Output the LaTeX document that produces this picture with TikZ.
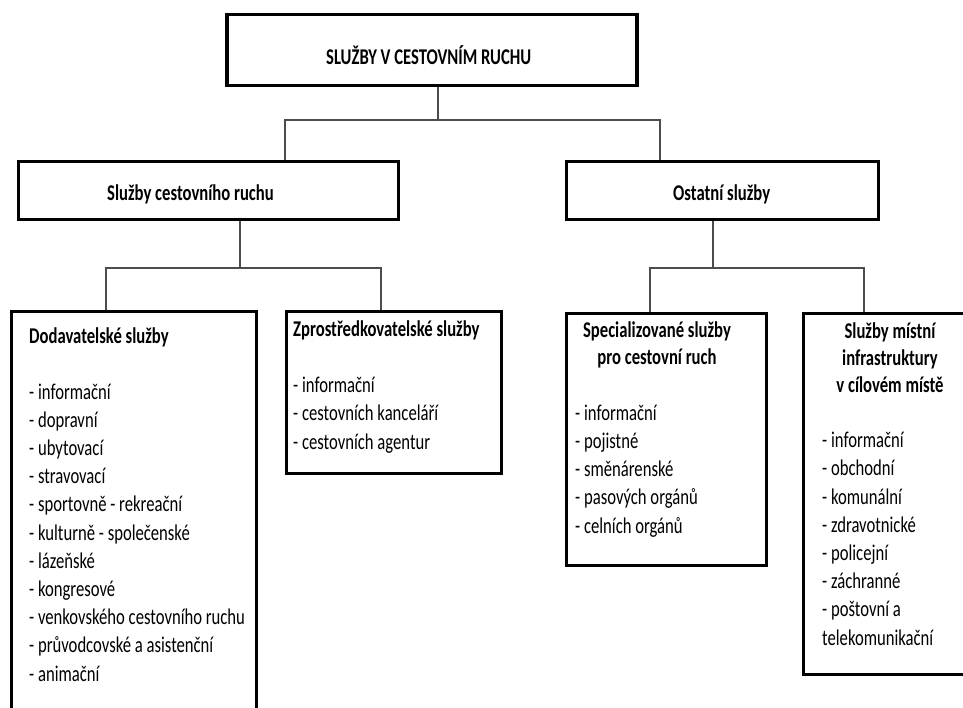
\documentclass[tikz,border=0pt]{standalone}
\usepackage{fontspec}
\setmainfont{Carlito}[FakeStretch=0.74]
\usetikzlibrary{positioning}
\newcommand{\boxfont}{\fontsize{22.5}{28.2}\selectfont}

\tikzset{
	box/.style={draw, line width=3.5pt, inner sep=0pt},
	link/.style={draw=black!70, line width=1.4pt},
	label/.style={font=\boxfont\bfseries, inner sep=0pt, anchor=base west},
	heading/.style={font=\fontsize{22.5}{27}\selectfont\bfseries, inner sep=0pt, align=center, anchor=base},
	list/.style={font=\boxfont, inner sep=0pt, align=left, anchor=base west},
}

\begin{document}
\begin{tikzpicture}[x=1pt, y=-1pt]
	%%%%% START %%%%%
	\path[use as bounding box, fill=white] (0,0) rectangle (963,708);

	% boxes
	\node[box, minimum width=410, minimum height=71] (top) at (432,50) {};
	\node[box, minimum width=380, minimum height=58] (tour) at (208.5,190.5) {};
	\node[box, minimum width=312, minimum height=58] (other) at (722.5,190.5) {};
	\node[box, minimum width=245, minimum height=417] (supply) at (134,520) {};
	\node[box, minimum width=215, minimum height=162] (agency) at (394,392.5) {};
	\node[box, minimum width=200, minimum height=252] (special) at (666.5,439.5) {};
	\node[box, minimum width=185, minimum height=361] (local) at (896,494) {};

	% connectors
	\coordinate (bus) at (438,120);
	\coordinate (busL) at (285,120);
	\coordinate (busR) at (660,120);
	\draw[link] (top.south -| bus) -- (bus);
	\draw[link] (tour.north -| busL) -- (busL) -- (busR) -- (other.north -| busR);

	\coordinate (tourbus) at (240,268);
	\coordinate (tourL) at (106,268);
	\coordinate (tourR) at (381,268);
	\draw[link] (tour.south -| tourbus) -- (tourbus);
	\draw[link] (supply.north -| tourL) -- (tourL) -- (tourR) -- (agency.north -| tourR);

	\coordinate (otherbus) at (713,268);
	\coordinate (otherL) at (650,268);
	\coordinate (otherR) at (864,268);
	\draw[link] (other.south -| otherbus) -- (otherbus);
	\draw[link] (special.north -| otherL) -- (otherL) -- (otherR) -- (local.north -| otherR);

	% texts (base anchor of a multi-line node = its last line)
	\node[label] (topT) at (326,65) {SLUŽBY V CESTOVNÍM RUCHU};
	\node[label] (tourT) at (107,201) {Služby cestovního ruchu};
	\node[label] (otherT) at (673,201) {Ostatní služby};

	\node[label] (supplyT) at (29,343) {Dodavatelské služby};
	\node[list] (supplyL) at (29,681) {- informační\\- dopravní\\- ubytovací\\- stravovací\\- sportovně - rekreační\\- kulturně - společenské\\- lázeňské\\- kongresové\\- venkovského cestovního ruchu\\- průvodcovské a asistenční\\- animační};

	\node[label] (agencyT) at (293,337) {Zprostředkovatelské služby};
	\node[list] (agencyL) at (293,449) {- informační\\- cestovních kanceláří\\- cestovních agentur};

	\node[heading] (specialT) at (657,364) {Specializované služby\\pro cestovní ruch};
	\node[list] (specialL) at (575,533) {- informační\\- pojistné\\- směnárenské\\- pasových orgánů\\- celních orgánů};

	\node[heading] (localT) at (890,392) {Služby místní\\infrastruktury\\v cílovém místě};
	\node[list] (localL) at (822,645) {- informační\\- obchodní\\- komunální\\- zdravotnické\\- policejní\\- záchranné\\- poštovní a\\telekomunikační};
	%%%%% END %%%%%
\end{tikzpicture}
\end{document}
